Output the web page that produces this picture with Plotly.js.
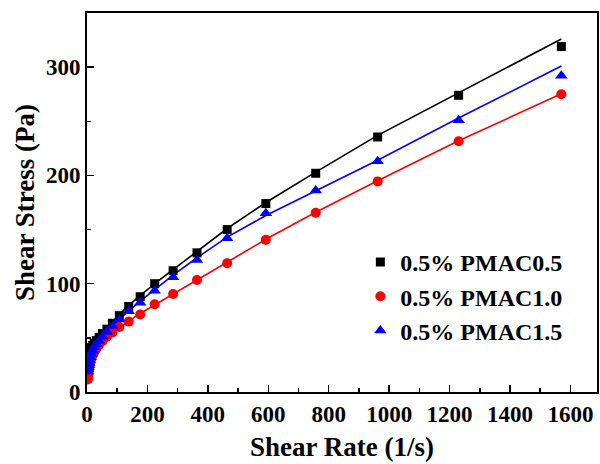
<!DOCTYPE html>
<html>
<head>
<meta charset="utf-8">
<script src="https://cdn.plot.ly/plotly-3.0.1.min.js"></script>
<style>html,body{margin:0;padding:0;background:#fff;}#chart{width:600px;height:464px;}</style>
</head>
<body>
<div id="chart"></div>
<script>
// Measured shear rates (1/s)
const shearRate = [1570, 1230, 962, 757, 592, 464, 364, 285, 224, 176, 138, 107, 84, 66, 51, 40, 31, 24, 19, 15, 11.5, 9, 7, 5.5, 4.3, 3.4, 2.6];
// Measured shear stress (Pa)
const stressPMAC05 = [319, 274, 235.5, 202, 174, 150, 128.5, 112, 100, 88, 79, 70.5, 63.5, 58, 54, 50.5, 47.5, 45, 43, 41, 40, 38, 36, 34, 32, 30, 28];
const stressPMAC10 = [275, 231.5, 194.5, 165.5, 140.5, 119, 103.5, 90.5, 81, 71.5, 65, 60, 55, 51, 47, 43.5, 40, 37, 34, 31, 27, 24, 21, 18, 15.5, 13, 11.5];
const stressPMAC15 = [292, 251, 213, 186, 165, 142, 122, 106, 93.5, 82.5, 74.5, 67, 61, 55.5, 51, 47, 44, 41, 38, 35, 32, 29.5, 27, 25, 23, 21, 19];
// Fitted curves
const fitRate = [1570, 1230, 962, 757, 592, 464, 364, 285, 224, 176, 138, 107, 84, 66, 51, 40, 31, 24, 19, 15, 11.5, 9, 7, 5.5, 4.3, 3, 1.5, 0];
const fitPMAC05 = [326, 276, 237, 203, 175, 151, 130, 113, 100, 89, 80, 71.5, 65, 59.5, 55, 51, 47.5, 44.5, 42, 40, 38, 36, 34.5, 33, 31.5, 30, 27.5, 24];
const fitPMAC10 = [275.4, 232, 195, 166, 141, 120, 104, 91, 81, 72.5, 65.5, 59.5, 54.5, 50, 46, 42.5, 39, 36, 33.5, 31, 28, 25.5, 23.5, 21.5, 19.5, 17, 13.5, 8];
const fitPMAC15 = [301, 253, 214, 186, 163, 143, 124, 108, 95, 84, 75, 67, 61, 56, 51, 47, 43.5, 40.5, 38, 35.5, 33, 31, 29, 27.5, 26, 24, 21.5, 17];
const seriesNames = ['0.5% PMAC0.5', '0.5% PMAC1.0', '0.5% PMAC1.5'];
const xTickVals = [0, 200, 400, 600, 800, 1000, 1200, 1400, 1600];
const yTickVals = [0, 100, 200, 300];

const colors = ['#000000', '#ff0000', '#0000ff'];
const symbols = ['square', 'circle', 'triangle-up'];
const sizes = [9, 10, 11];
const stresses = [stressPMAC05, stressPMAC10, stressPMAC15];
const fits = [fitPMAC05, fitPMAC10, fitPMAC15];
const FONT = 'Liberation Serif';

const traces = [];
for (let i = 0; i < 3; i++) {
  traces.push({
    x: fitRate, y: fits[i], mode: 'lines', type: 'scatter',
    line: {color: colors[i], width: 1.6}, showlegend: false, hoverinfo: 'skip'
  });
}
for (let i = 0; i < 3; i++) {
  traces.push({
    x: shearRate, y: stresses[i], mode: 'markers', type: 'scatter', name: seriesNames[i],
    marker: {color: colors[i], symbol: symbols[i], size: sizes[i], line: {width: 0}}
  });
}

const layout = {
  width: 600, height: 464,
  margin: {l: 87, r: 3, t: 13, b: 72},
  paper_bgcolor: '#fff', plot_bgcolor: '#fff',
  font: {family: FONT, color: '#000', weight: 'bold'},
  showlegend: true,
  legend: {
    x: 0.536, y: 0.401, xanchor: 'left', yanchor: 'top',
    bgcolor: 'rgba(0,0,0,0)', borderwidth: 0,
    font: {family: FONT, size: 24, color: '#000', weight: 'bold'},
    itemsizing: 'trace', tracegroupgap: 0
  },
  xaxis: {
    range: [0, 1688], tickvals: xTickVals, ticktext: xTickVals.map(String),
    ticks: 'inside', ticklen: 7, tickwidth: 1.5, tickcolor: '#000',
    minor: {dtick: 100, ticks: 'inside', ticklen: 4, tickwidth: 1.5, tickcolor: '#000'},
    showline: true, linecolor: '#000', linewidth: 2, mirror: true,
    showgrid: false, zeroline: false,
    tickfont: {family: FONT, size: 23, color: '#000', weight: 'bold'},
    title: {text: 'Shear Rate (1/s)', font: {family: FONT, size: 27, color: '#000', weight: 'bold'}, standoff: 12}
  },
  yaxis: {
    range: [0, 350], tickvals: yTickVals, ticktext: yTickVals.map(String),
    ticks: 'inside', ticklen: 7, tickwidth: 1.5, tickcolor: '#000',
    minor: {dtick: 50, ticks: 'inside', ticklen: 4, tickwidth: 1.5, tickcolor: '#000'},
    showline: true, linecolor: '#000', linewidth: 2, mirror: true,
    showgrid: false, zeroline: false,
    tickfont: {family: FONT, size: 23, color: '#000', weight: 'bold'},
    title: {text: 'Shear Stress (Pa)', font: {family: FONT, size: 27, color: '#000', weight: 'bold'}, standoff: 3}
  }
};

Plotly.newPlot('chart', traces, layout, {staticPlot: true, displayModeBar: false});
</script>
</body>
</html>
